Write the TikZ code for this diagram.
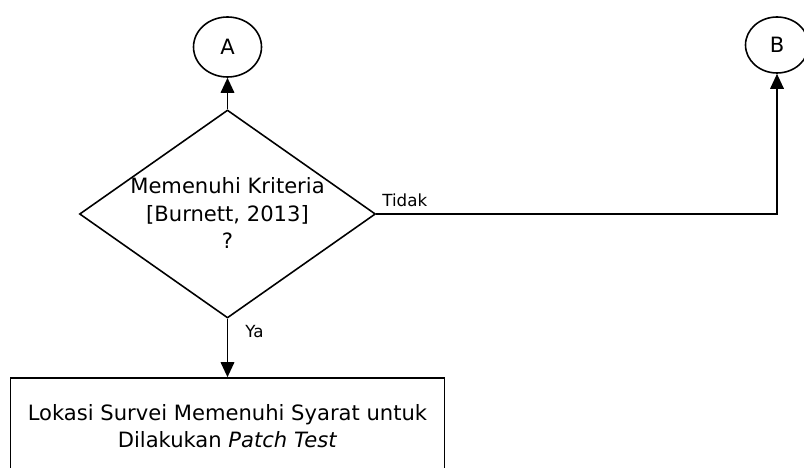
\documentclass[tikz,border=0pt]{standalone}
\usepackage{fontspec}
\setmainfont{DejaVu Sans}
\usetikzlibrary{shapes.geometric, arrows.meta}

\begin{document}
\begin{tikzpicture}[
  font=\fontsize{12}{15.5}\selectfont,
  conn/.style={draw, ellipse, line width=0.9pt, inner sep=0pt},
  decision/.style={draw, diamond, line width=0.9pt, minimum width=5.92cm, minimum height=4.16cm, inner sep=0pt},
  proc/.style={draw, rectangle, line width=0.9pt, minimum width=8.68cm, minimum height=1.92cm, align=center},
  lbl/.style={font=\fontsize{9.5}{11}\selectfont, inner sep=0pt},
  arr/.style={-{Triangle[length=0.3cm, width=0.27cm]}, line width=1pt}
]
  % batas gambar
  \clip (0,0) rectangle (16.08,-9.36);
  % nodes
  \node[conn, minimum width=1.36cm, minimum height=1.2cm] (A) at (4.55,-0.94) {A};
  \node[conn, minimum width=1.26cm, minimum height=1.12cm] (B) at (15.54,-0.9) {B};
  \node[decision] (kriteria) at (4.55,-4.28) {};
  \node[align=center] (kriteriaText) at (4.55,-4.26) {Memenuhi Kriteria\\ {[Burnett, 2013]}\\ ?};
  \node[proc] (lokasi) at (4.55,-8.52) {Lokasi Survei Memenuhi Syarat untuk\\ Dilakukan \textit{Patch Test}};
  % panah
  \draw[arr] (kriteria.north) -- (A.south);
  \draw[arr] (kriteria.east) -| (B.south);
  \draw[arr] (kriteria.south) -- (lokasi.north);
  % label
  \node[lbl, anchor=base west] (tidak) at (7.64,-4.14) {Tidak};
  \node[lbl, anchor=base west] (ya) at (4.9,-6.74) {Ya};
\end{tikzpicture}
\end{document}
